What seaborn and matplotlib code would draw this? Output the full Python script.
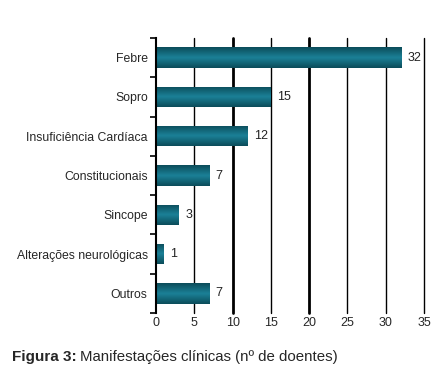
import numpy as np
import pandas as pd
import seaborn as sns
import matplotlib.pyplot as plt
from matplotlib.ticker import FixedLocator

categories = ['Febre', 'Sopro', 'Insuficiência Cardíaca', 'Constitucionais',
              'Sincope', 'Alterações neurológicas', 'Outros']
values = [32, 15, 12, 7, 3, 1, 7]
xticks = [0, 5, 10, 15, 20, 25, 30, 35]

df = pd.DataFrame({'cat': categories, 'n': values})

sns.set_style('white')
plt.rcParams['font.family'] = ['Liberation Sans', 'DejaVu Sans']

fig = plt.figure(figsize=(4.44, 3.84), dpi=100)
ax = fig.add_axes([156 / 444, 1 - 313 / 384, 268 / 444, 275 / 384])

sns.barplot(data=df, x='n', y='cat', color='#136a7a', width=0.52,
            saturation=1, ax=ax, zorder=3)

# gradient fill: dark at edges, lighter in middle
grad = np.abs(np.linspace(-1, 1, 64))[:, None]
cmap = sns.blend_palette(['#1b8096', '#0b4c5a'], as_cmap=True)
for p in ax.patches:
    x0, y0 = p.get_x(), p.get_y()
    w, h = p.get_width(), p.get_height()
    im = ax.imshow(grad, cmap=cmap, aspect='auto', extent=(x0, x0 + w, y0 + h, y0),
                   zorder=4, interpolation='bicubic')
    im.set_clip_path(p)
    p.set_edgecolor('none')

ax.set_xlim(0, 35)
ax.set_ylim(6.5, -0.5)

for v in xticks[1:]:
    ax.axvline(v, color='black', lw=2.0 if v in (10, 20) else 1.0, zorder=1, clip_on=False)

for i, v in enumerate(values):
    ax.text(v + 0.8, i, str(v), va='center', ha='left', fontsize=9, color='#222222')

ax.set_xticks(xticks)
ax.set_xticklabels([str(t) for t in xticks], fontsize=9)
ax.tick_params(axis='x', length=0, pad=3)
ax.tick_params(axis='y', which='major', length=0, pad=6, labelsize=8.8)
ax.yaxis.set_minor_locator(FixedLocator(np.arange(-0.5, 7, 1)))
ax.tick_params(axis='y', which='minor', length=4, width=1.2, color='black', left=True)
ax.set_xlabel('')
ax.set_ylabel('')

for s in ['top', 'right', 'bottom']:
    ax.spines[s].set_visible(False)
ax.spines['left'].set_color('black')
ax.spines['left'].set_linewidth(1.5)
ax.spines['left'].set_zorder(5)

fig.text(12 / 444, 1 - 357 / 384, 'Figura 3:', fontsize=11, fontweight='bold', va='center')
fig.text(80 / 444, 1 - 357 / 384, 'Manifestações clínicas (nº de doentes)', fontsize=10.8, va='center')

fig.savefig('out.png', dpi=100)
